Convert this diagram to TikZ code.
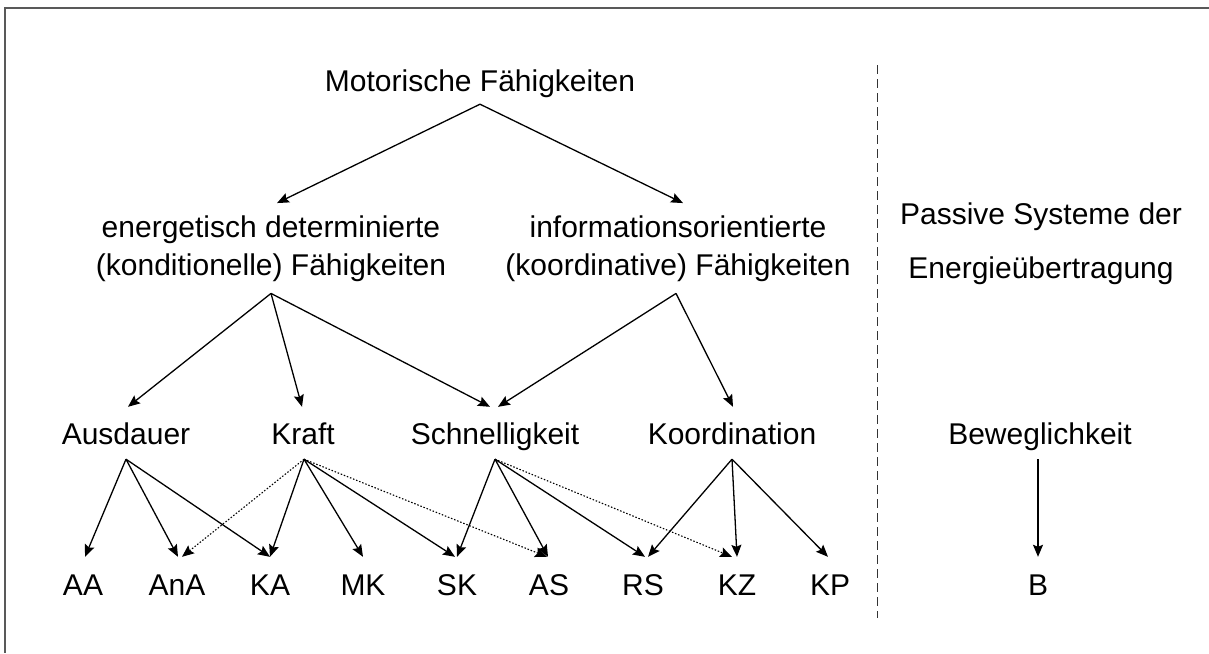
\documentclass[tikz,border=0pt]{standalone}
\usepackage{fontspec}
\setmainfont{Liberation Sans}
\usetikzlibrary{arrows.meta}
\begin{document}
\begin{tikzpicture}[x=1pt,y=-1pt,
  lbl/.style={font=\fontsize{30}{38}\selectfont, inner xsep=0pt, text height=22pt, text depth=0pt},
  twoline/.style={font=\fontsize{30}{38}\selectfont, align=center, inner xsep=0pt, inner ysep=12pt},
  arr/.style={-{Stealth[length=12pt,width=10pt,inset=2pt]}, line width=1.3pt},
  dotarr/.style={arr, line width=1.1pt, dash pattern=on 1.5pt off 1.8pt},
  sep/.style={line width=1pt, black!80, dash pattern=on 9pt off 5pt},
  frame/.style={line width=1.5pt, black!65}
]
\useasboundingbox (0,0) rectangle (1209,653);
\draw[frame] (1209,8) -- (5,8) -- (5,653);
\draw[sep] (877,65) -- (877,618);

% top
\node[lbl, inner ysep=13pt, anchor=base] (mot) at (480,91) {Motorische Fähigkeiten};
\node[twoline, anchor=base] (ener) at (271,275) {energetisch determinierte\\(konditionelle) Fähigkeiten};
\node[twoline, anchor=base] (info) at (678,275) {informationsorientierte\\(koordinative) Fähigkeiten};
\node[font=\fontsize{30}{54}\selectfont, align=center, inner sep=0pt, anchor=base] (pass) at (1041,278) {Passive Systeme der\\Energieübertragung};

% second row
\node[lbl, inner ysep=15pt, anchor=base] (aus) at (126,444) {Ausdauer};
\node[lbl, inner ysep=15pt, anchor=base] (kraft) at (303,444) {Kraft};
\node[lbl, inner ysep=15pt, anchor=base] (schn) at (495,444) {Schnelligkeit};
\node[lbl, inner ysep=15pt, anchor=base] (koord) at (732,444) {Koordination};
\node[lbl, inner ysep=15pt, anchor=base] (bew) at (1040,444) {Beweglichkeit};

% bottom row
\foreach \n/\t/\x in {aa/AA/83, ana/AnA/177, ka/KA/270, mk/MK/363, sk/SK/457, as/AS/549, rs/RS/643, kz/KZ/737, kp/KP/830, b/B/1038}
  \node[lbl, inner ysep=16pt, anchor=base] (\n) at (\x,595) {\t};

% connectors
\draw[arr] (mot.south) -- ([xshift=6pt]ener.north);
\draw[arr] (mot.south) -- ([xshift=5pt]info.north);

\draw[arr] (ener.south) -- ([xshift=2pt]aus.north);
\draw[arr] (ener.south) -- ([xshift=-1pt]kraft.north);
\draw[arr] (ener.south) -- ([xshift=-5pt]schn.north);
\draw[arr] ([xshift=-2pt]info.south) -- ([xshift=3pt]schn.north);
\draw[arr] ([xshift=-2pt]info.south) -- ([xshift=1pt]koord.north);

\draw[arr] (aus.south) -- ([xshift=2pt]aa.north);
\draw[arr] (aus.south) -- ([xshift=1pt]ana.north);
\draw[arr] (aus.south) -- (ka.north);

\draw[arr] ([xshift=1pt]kraft.south) -- (ka.north);
\draw[arr] ([xshift=1pt]kraft.south) -- (mk.north);
\draw[arr] ([xshift=1pt]kraft.south) -- ([xshift=-2pt]sk.north);
\draw[dotarr] ([xshift=1pt]kraft.south) -- ([xshift=5pt]ana.north);
\draw[dotarr] ([xshift=1pt]kraft.south) -- ([xshift=-2pt]as.north);

\draw[arr] (schn.south) -- (sk.north);
\draw[arr] (schn.south) -- ([xshift=-1pt]as.north);
\draw[arr] (schn.south) -- ([xshift=2pt]rs.north);
\draw[dotarr] (schn.south) -- ([xshift=-5pt]kz.north);

\draw[arr] (koord.south) -- ([xshift=5pt]rs.north);
\draw[arr] (koord.south) -- (kz.north);
\draw[arr] (koord.south) -- ([xshift=-2pt]kp.north);

\draw[arr] (bew.south -| b.north) -- (b.north);
\end{tikzpicture}
\end{document}
